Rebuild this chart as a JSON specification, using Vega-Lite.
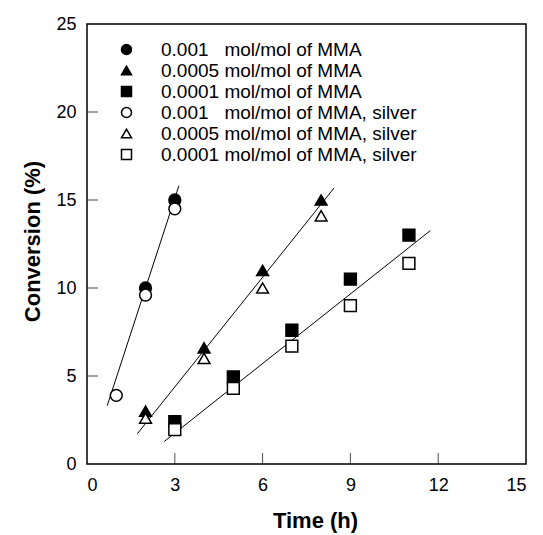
{
  "$schema": "https://vega.github.io/schema/vega-lite/v6.json",
  "width": 439,
  "height": 440,
  "autosize": "none",
  "padding": {"left": 87, "top": 24, "right": 17, "bottom": 71},
  "background": "white",
  "config": {
    "font": "Liberation Sans",
    "view": {"stroke": "black", "strokeWidth": 1.5, "fill": "transparent"},
    "axis": {
      "grid": false,
      "domain": false,
      "ticks": false,
      "labelFont": "Liberation Sans",
      "labelFontSize": 18,
      "labelColor": "black",
      "titleFont": "Liberation Sans",
      "titleFontSize": 22,
      "titleFontWeight": "bold",
      "titleColor": "black"
    },
    "legend": {
      "labelFont": "Liberation Sans",
      "labelFontSize": 19,
      "labelColor": "black",
      "labelLimit": 0,
      "labelOffset": 25,
      "symbolStrokeWidth": 1.5,
      "rowPadding": 1
    }
  },
  "datasets": {
    "pts": [
      {"series": "0.001\u00a0\u00a0\u00a0mol/mol of MMA", "time": 2, "conv": 10.0},
      {"series": "0.001\u00a0\u00a0\u00a0mol/mol of MMA", "time": 3, "conv": 15.0},
      {"series": "0.0005 mol/mol of MMA", "time": 2, "conv": 3.0},
      {"series": "0.0005 mol/mol of MMA", "time": 4, "conv": 6.6},
      {"series": "0.0005 mol/mol of MMA", "time": 6, "conv": 11.0},
      {"series": "0.0005 mol/mol of MMA", "time": 8, "conv": 15.0},
      {"series": "0.0001 mol/mol of MMA", "time": 3, "conv": 2.4},
      {"series": "0.0001 mol/mol of MMA", "time": 5, "conv": 4.95},
      {"series": "0.0001 mol/mol of MMA", "time": 7, "conv": 7.6},
      {"series": "0.0001 mol/mol of MMA", "time": 9, "conv": 10.5},
      {"series": "0.0001 mol/mol of MMA", "time": 11, "conv": 13.0},
      {"series": "0.001\u00a0\u00a0\u00a0mol/mol of MMA, silver", "time": 1, "conv": 3.9},
      {"series": "0.001\u00a0\u00a0\u00a0mol/mol of MMA, silver", "time": 2, "conv": 9.6},
      {"series": "0.001\u00a0\u00a0\u00a0mol/mol of MMA, silver", "time": 3, "conv": 14.5},
      {"series": "0.0005 mol/mol of MMA, silver", "time": 2, "conv": 2.6},
      {"series": "0.0005 mol/mol of MMA, silver", "time": 4, "conv": 6.0},
      {"series": "0.0005 mol/mol of MMA, silver", "time": 6, "conv": 10.0},
      {"series": "0.0005 mol/mol of MMA, silver", "time": 8, "conv": 14.1},
      {"series": "0.0001 mol/mol of MMA, silver", "time": 3, "conv": 1.95},
      {"series": "0.0001 mol/mol of MMA, silver", "time": 5, "conv": 4.3},
      {"series": "0.0001 mol/mol of MMA, silver", "time": 7, "conv": 6.7},
      {"series": "0.0001 mol/mol of MMA, silver", "time": 9, "conv": 9.0},
      {"series": "0.0001 mol/mol of MMA, silver", "time": 11, "conv": 11.4}
    ],
    "fits": [
      {"fit": "a", "time": 0.69, "conv": 3.31},
      {"fit": "a", "time": 3.14, "conv": 15.81},
      {"fit": "b", "time": 1.72, "conv": 1.72},
      {"fit": "b", "time": 8.44, "conv": 15.68},
      {"fit": "c", "time": 2.64, "conv": 1.28},
      {"fit": "c", "time": 11.73, "conv": 13.26}
    ],
    "xticks": [{"t": 3}, {"t": 6}, {"t": 9}, {"t": 12}],
    "yticks": [{"v": 5}, {"v": 10}, {"v": 15}, {"v": 20}]
  },
  "layer": [
    {
      "data": {"name": "fits"},
      "mark": {"type": "line", "color": "black", "strokeWidth": 1},
      "encoding": {
        "x": {"field": "time", "type": "quantitative", "scale": {"domain": [0, 15], "nice": false},
          "axis": {"values": [0, 3, 6, 9, 12, 15], "title": "Time (h)", "labelPadding": 12, "titleX": 228, "titleY": 63, "titleBaseline": "alphabetic"}},
        "y": {"field": "conv", "type": "quantitative", "scale": {"domain": [0, 25], "nice": false},
          "axis": {"values": [0, 5, 10, 15, 20, 25], "title": "Conversion (%)", "labelPadding": 11, "titleX": -48, "titleY": 217, "titleBaseline": "alphabetic"}},
        "detail": {"field": "fit"}
      }
    },
    {
      "data": {"name": "xticks"},
      "mark": {"type": "tick", "orient": "vertical", "size": 22, "thickness": 1, "color": "black", "clip": true},
      "encoding": {
        "x": {"field": "t", "type": "quantitative"},
        "y": {"datum": 0}
      }
    },
    {
      "data": {"name": "yticks"},
      "mark": {"type": "tick", "orient": "horizontal", "size": 22, "thickness": 1, "color": "black", "clip": true},
      "encoding": {
        "y": {"field": "v", "type": "quantitative"},
        "x": {"datum": 0}
      }
    },
    {
      "data": {"name": "pts"},
      "mark": {"type": "point", "filled": true, "strokeWidth": 1.5, "size": 140, "opacity": 1},
      "encoding": {
        "x": {"field": "time", "type": "quantitative"},
        "y": {"field": "conv", "type": "quantitative"},
        "shape": {"field": "series", "type": "nominal", "sort": null,
          "scale": {"domain": ["0.001\u00a0\u00a0\u00a0mol/mol of MMA", "0.0005 mol/mol of MMA", "0.0001 mol/mol of MMA", "0.001\u00a0\u00a0\u00a0mol/mol of MMA, silver", "0.0005 mol/mol of MMA, silver", "0.0001 mol/mol of MMA, silver"],
            "range": ["circle", "triangle-up", "square", "circle", "triangle-up", "square"]},
          "legend": {"title": null, "orient": "none", "legendX": 30, "legendY": 16}},
        "fill": {"field": "series", "type": "nominal", "sort": null,
          "scale": {"domain": ["0.001\u00a0\u00a0\u00a0mol/mol of MMA", "0.0005 mol/mol of MMA", "0.0001 mol/mol of MMA", "0.001\u00a0\u00a0\u00a0mol/mol of MMA, silver", "0.0005 mol/mol of MMA, silver", "0.0001 mol/mol of MMA, silver"],
            "range": ["black", "black", "black", "white", "white", "white"]},
          "legend": {"title": null, "orient": "none", "legendX": 30, "legendY": 16}},
        "stroke": {"field": "series", "type": "nominal", "sort": null,
          "scale": {"domain": ["0.001\u00a0\u00a0\u00a0mol/mol of MMA", "0.0005 mol/mol of MMA", "0.0001 mol/mol of MMA", "0.001\u00a0\u00a0\u00a0mol/mol of MMA, silver", "0.0005 mol/mol of MMA, silver", "0.0001 mol/mol of MMA, silver"],
            "range": ["black", "black", "black", "black", "black", "black"]},
          "legend": {"title": null, "orient": "none", "legendX": 30, "legendY": 16}}
      }
    }
  ]
}
